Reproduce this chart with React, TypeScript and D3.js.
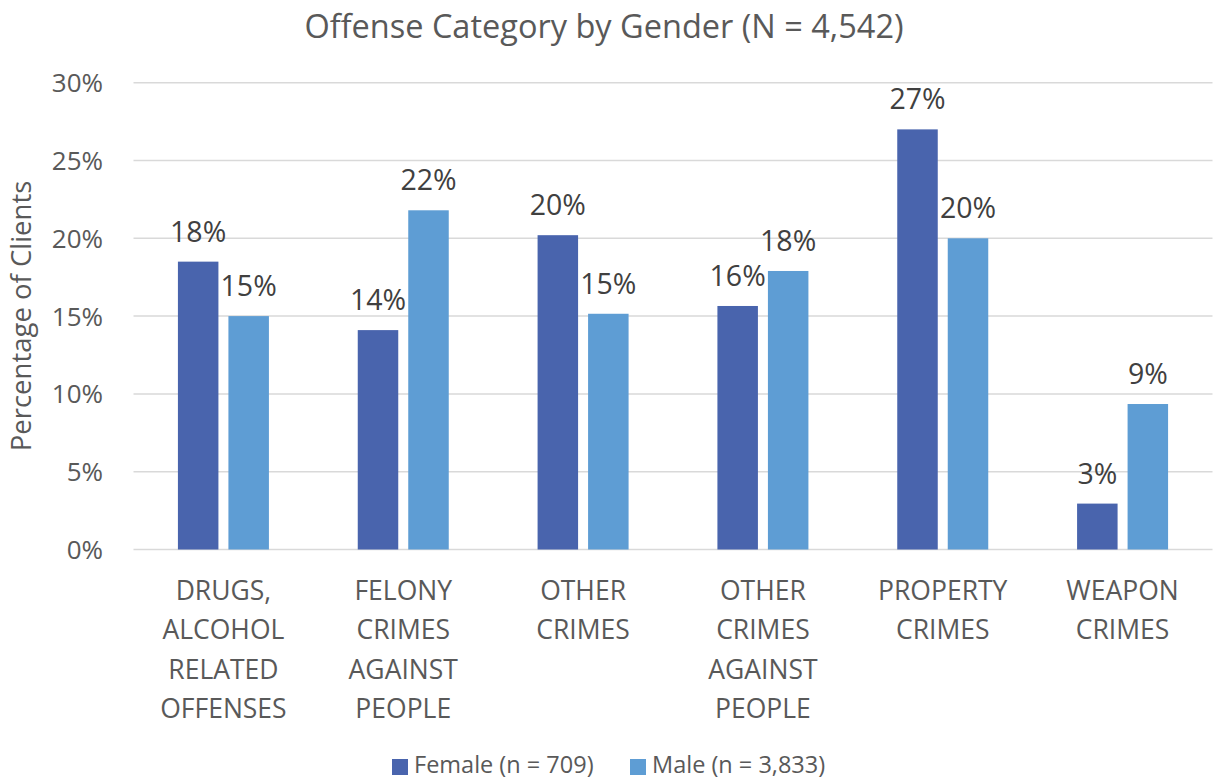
import React from "react";
import * as d3 from "d3";

const categories = [
  ["DRUGS,", "ALCOHOL", "RELATED", "OFFENSES"],
  ["FELONY", "CRIMES", "AGAINST", "PEOPLE"],
  ["OTHER", "CRIMES"],
  ["OTHER", "CRIMES", "AGAINST", "PEOPLE"],
  ["PROPERTY", "CRIMES"],
  ["WEAPON", "CRIMES"],
];
const seriesNames = ["Female (n = 709)", "Male (n = 3,833)"];
const femaleValues = [18.5, 14.1, 20.2, 15.65, 27.0, 2.95];
const maleValues = [15.0, 21.8, 15.15, 17.9, 20.0, 9.35];
const femaleLabels = ["18%", "14%", "20%", "16%", "27%", "3%"];
const maleLabels = ["15%", "22%", "15%", "18%", "20%", "9%"];
const yTicks = [0, 5, 10, 15, 20, 25, 30];
const colors = ["#4964ad", "#5e9dd4"];

const W = 1216;
const H = 780;
const FONT = "'Open Sans', 'Noto Sans', sans-serif";

export default function App() {
  const keys = categories.map((c) => c.join(" "));
  const x0 = d3.scaleBand<string>().domain(keys).range([133.5, 1212.5]).paddingInner(0).paddingOuter(0);
  const bw = x0.bandwidth();
  const x1 = d3
    .scaleBand<string>()
    .domain(seriesNames)
    .range([bw / 2 - 45.5, bw / 2 + 45.5])
    .paddingInner(0.198)
    .paddingOuter(0);
  const y = d3.scaleLinear().domain([0, 30]).range([549.5, 82.7]);
  const series = [
    { name: seriesNames[0], values: femaleValues, labels: femaleLabels, color: colors[0] },
    { name: seriesNames[1], values: maleValues, labels: maleLabels, color: colors[1] },
  ];

  return (
    <svg
      width={W}
      height={H}
      style={{ position: "absolute", left: 0, top: 0, background: "#fff" }}
      fontFamily={FONT}
    >
      <rect x={0} y={0} width={W} height={H} fill="#fff" />
      <text x={604} y={38} textAnchor="middle" fontSize={32.5} fill="#595959">
        Offense Category by Gender (N = 4,542)
      </text>
      {yTicks.map((t) => (
        <g key={t}>
          <line x1={133.5} x2={1212.5} y1={y(t)} y2={y(t)} stroke="#d9d9d9" strokeWidth={1.5} />
          <text x={103} y={y(t) + 9.5} textAnchor="end" fontSize={26} fill="#595959">
            {t}%
          </text>
        </g>
      ))}
      <text
        transform={`translate(31,316) rotate(-90)`}
        textAnchor="middle"
        fontSize={27.5}
        fill="#595959"
      >
        Percentage of Clients
      </text>
      {categories.map((cat, i) => {
        const bx = x0(keys[i])!;
        return (
          <g key={keys[i]} transform={`translate(${bx},0)`}>
            {series.map((s) => {
              const v = s.values[i];
              const xx = x1(s.name)!;
              return (
                <g key={s.name}>
                  <rect x={xx} y={y(v)} width={x1.bandwidth()} height={y(0) - y(v)} fill={s.color} />
                  <text
                    x={xx + x1.bandwidth() / 2}
                    y={y(v) - 20}
                    textAnchor="middle"
                    fontSize={28.5}
                    fill="#404040"
                  >
                    {s.labels[i]}
                  </text>
                </g>
              );
            })}
            {cat.map((line, j) => (
              <text
                key={j}
                x={bw / 2}
                y={600 + j * 39.3}
                textAnchor="middle"
                fontSize={26.5}
                fill="#595959"
              >
                {line}
              </text>
            ))}
          </g>
        );
      })}
      {series.map((s, i) => {
        const lx = i === 0 ? 392 : 630;
        return (
          <g key={s.name}>
            <rect x={lx} y={759} width={16} height={16} fill={s.color} />
            <text x={lx + 22} y={773} fontSize={23.5} fill="#595959">
              {s.name}
            </text>
          </g>
        );
      })}
    </svg>
  );
}
